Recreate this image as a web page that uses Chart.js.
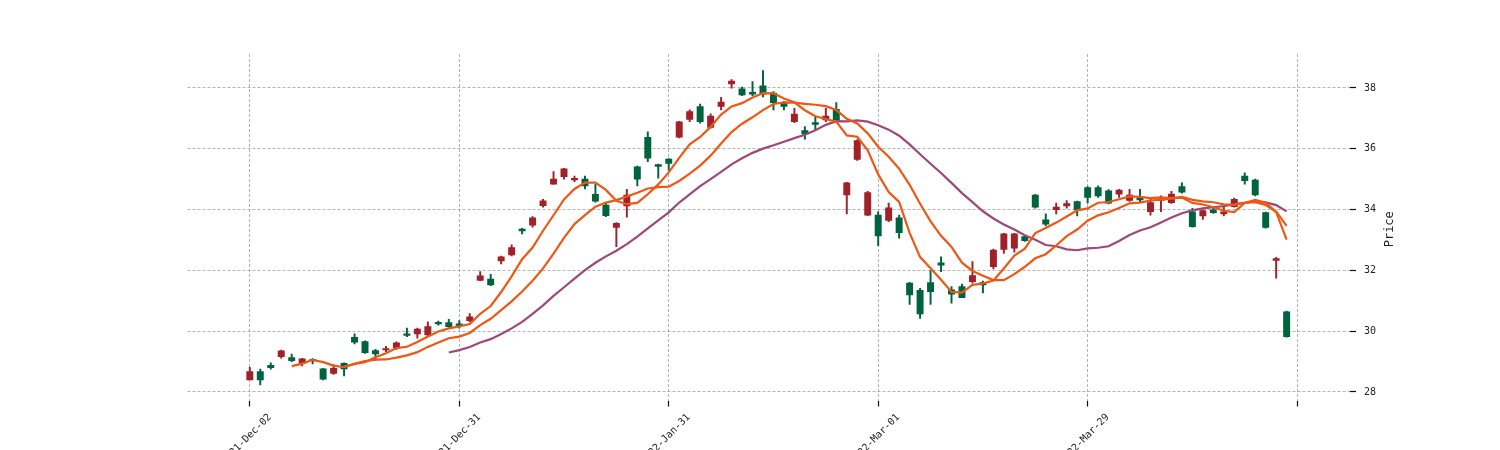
<!DOCTYPE html>
<html><head><meta charset="utf-8">
<script src="https://cdn.jsdelivr.net/npm/chart.js@4"></script>
<style>html,body{margin:0;padding:0;background:#fff;overflow:hidden}</style>
</head><body>
<canvas id="c" width="1500" height="450"></canvas>
<script>
const opens = [28.4,28.67,28.88,29.16,29.13,28.95,29.04,28.76,28.61,28.94,
29.8,29.66,29.36,29.38,29.45,29.9,29.91,29.88,30.29,30.28,
30.24,30.35,31.67,31.71,32.31,32.51,33.36,33.49,34.13,34.84,
35.08,34.98,35.0,34.5,34.15,33.41,34.12,35.41,36.38,35.48,
35.66,36.38,36.97,37.39,36.7,37.39,38.13,37.97,37.86,38.07,
37.83,37.5,36.89,36.6,36.86,36.95,37.3,34.48,35.65,33.82,
33.82,33.64,33.73,31.58,31.34,31.6,32.25,31.36,31.47,31.63,
31.6,32.12,32.69,32.73,33.11,34.48,33.66,34.0,34.12,34.26,
34.72,34.72,34.62,34.51,34.3,34.4,33.93,34.3,34.23,34.76,
33.93,33.79,33.99,33.86,34.1,35.1,34.97,33.9,32.33,30.64];
const closes = [28.67,28.4,28.8,29.35,29.03,29.09,29.02,28.42,28.78,28.76,
29.64,29.29,29.25,29.42,29.62,29.86,30.07,30.15,30.24,30.15,
30.18,30.47,31.82,31.52,32.45,32.75,33.3,33.73,34.29,35.0,
35.34,35.03,34.78,34.28,33.8,33.55,34.48,35.0,35.69,35.42,
35.52,36.89,37.22,36.89,37.08,37.54,38.23,37.77,37.8,37.8,
37.52,37.39,37.14,36.49,36.8,37.08,36.95,34.88,36.27,34.56,
33.13,34.06,33.24,31.19,30.57,31.3,32.17,31.22,31.1,31.83,
31.52,32.67,33.2,33.2,32.98,34.08,33.52,34.08,34.2,33.99,
34.4,34.45,34.21,34.64,34.48,34.32,34.23,34.35,34.51,34.57,
33.44,33.97,33.9,33.93,34.34,34.95,34.48,33.41,32.39,29.82];
const highs = [28.81,28.75,28.96,29.38,29.25,29.11,29.1,28.78,28.89,28.96,
29.91,29.68,29.4,29.5,29.65,30.1,30.1,30.31,30.33,30.39,
30.35,30.58,31.96,31.87,32.47,32.84,33.38,33.77,34.34,35.25,
35.36,35.1,35.1,34.83,34.21,33.57,34.67,35.43,36.56,35.5,
35.68,36.9,37.28,37.47,37.15,37.69,38.28,38.03,38.21,38.57,
37.88,37.55,37.33,36.73,37.04,37.33,37.52,34.9,36.3,34.6,
33.93,34.21,33.82,31.61,31.41,31.99,32.45,31.47,31.55,32.29,
31.65,32.7,33.22,33.22,33.14,34.5,33.86,34.21,34.3,34.28,
34.76,34.78,34.66,34.67,34.67,34.67,34.34,34.45,34.6,34.88,
34.04,33.99,34.1,34.1,34.38,35.21,35.0,33.92,32.43,30.66];
const lows = [28.4,28.23,28.75,29.11,29.0,28.86,28.92,28.4,28.58,28.53,
29.58,29.27,29.05,29.33,29.4,29.82,29.77,29.84,30.2,30.13,
30.1,30.31,31.66,31.5,32.21,32.48,33.2,33.42,34.08,34.84,
35.0,34.92,34.68,34.24,33.77,32.78,33.75,34.78,35.58,35.03,
35.3,36.36,36.89,36.84,36.68,37.28,37.99,37.75,37.75,37.71,
37.28,37.28,36.86,36.32,36.62,36.89,36.89,33.86,35.62,33.8,
32.81,33.6,33.06,30.88,30.42,30.88,31.96,30.92,31.1,31.58,
31.26,32.05,32.56,32.6,32.95,34.05,33.46,33.86,34.05,33.79,
34.21,34.4,34.19,34.4,34.27,34.26,33.82,33.93,34.2,34.54,
33.42,33.68,33.87,33.79,34.08,34.84,34.45,33.39,31.74,29.8];
const xTickPositions = [0, 20, 40, 60, 80, 100];
const xTickLabels = ['2021-Dec-02', '2021-Dec-31', '2022-Jan-31', '2022-Mar-01', '2022-Mar-29', ''];
const yTicks = [28, 30, 32, 34, 36, 38];
const maPeriods = [5, 10, 20];
const maColors = ['#ef5714', '#ef5714', '#9f4878'];
const upColor = '#a02128';
const downColor = '#006340';

function movingAverage(vals, n) {
  return vals.map((v, i) => {
    if (i < n - 1) return null;
    let s = 0;
    for (let k = i - n + 1; k <= i; k++) s += vals[k];
    return s / n;
  });
}

const idx = closes.map((_, i) => i);
const candleColors = idx.map(i => closes[i] >= opens[i] ? upColor : downColor);

const datasets = [];
maPeriods.forEach((p, j) => {
  const ma = movingAverage(closes, p);
  datasets.push({
    type: 'line',
    data: idx.filter(i => ma[i] !== null).map(i => ({x: i, y: ma[i]})),
    borderColor: maColors[j],
    borderWidth: 2.2,
    pointRadius: 0,
    tension: 0,
    fill: false,
    order: j
  });
});
datasets.push({
  type: 'bar',
  data: idx.map(i => ({x: i, y: [opens[i], closes[i]]})),
  backgroundColor: candleColors,
  borderWidth: 0,
  barThickness: 6.3,
  minBarLength: 1.5,
  grouped: false,
  order: 10
});
datasets.push({
  type: 'bar',
  data: idx.map(i => ({x: i, y: [lows[i], highs[i]]})),
  backgroundColor: candleColors,
  borderWidth: 0,
  barThickness: 1.3,
  grouped: false,
  order: 11
});

const gridCommon = {
  color: '#a0a0a0',
  lineWidth: 0.8,
  offset: false,
  drawTicks: true,
  tickColor: '#111',
  tickWidth: 1.2,
  tickBorderDash: []
};

const yLabelPlugin = {
  id: 'yLabel',
  afterDraw(chart) {
    const ctx = chart.ctx;
    const a = chart.chartArea;
    ctx.save();
    ctx.translate(a.right + 40, (a.top + a.bottom) / 2 + 2);
    ctx.rotate(-Math.PI / 2);
    ctx.font = '12px "DejaVu Sans Mono"';
    ctx.fillStyle = '#222';
    ctx.textAlign = 'center';
    ctx.textBaseline = 'middle';
    ctx.fillText('Price', 0, 0);
    ctx.restore();
  }
};

new Chart(document.getElementById('c'), {
  type: 'bar',
  data: {datasets},
  plugins: [yLabelPlugin],
  options: {
    responsive: false,
    animation: false,
    devicePixelRatio: 1,
    layout: {padding: {left: 187.5, top: 54, right: 0, bottom: 0}},
    plugins: {legend: {display: false}, tooltip: {enabled: false}},
    scales: {
      x: {
        type: 'linear',
        min: -5.95,
        max: 105.05,
        offset: false,
        afterBuildTicks: s => { s.ticks = xTickPositions.map(v => ({value: v})); },
        afterFit: s => { s.height = 49.5; },
        grid: Object.assign({}, gridCommon, {tickLength: 6}),
        border: {display: false, dash: [3, 2]},
        ticks: {
          autoSkip: false,
          minRotation: 45,
          maxRotation: 45,
          labelOffset: 20,
          padding: 5,
          color: '#222',
          font: {family: 'DejaVu Sans Mono', size: 10},
          callback: (v) => { const k = xTickPositions.indexOf(v); return k >= 0 ? xTickLabels[k] : ''; }
        }
      },
      y: {
        position: 'right',
        min: 27.72,
        max: 39.118,
        afterBuildTicks: s => { s.ticks = yTicks.map(v => ({value: v})); },
        afterFit: s => { s.width = 150; },
        grid: Object.assign({}, gridCommon, {tickLength: 6}),
        border: {display: false, dash: [3, 2]},
        ticks: {
          padding: 8,
          color: '#222',
          font: {family: 'DejaVu Sans Mono', size: 10},
          callback: (v) => String(v)
        }
      }
    }
  }
});
</script>
</body></html>
